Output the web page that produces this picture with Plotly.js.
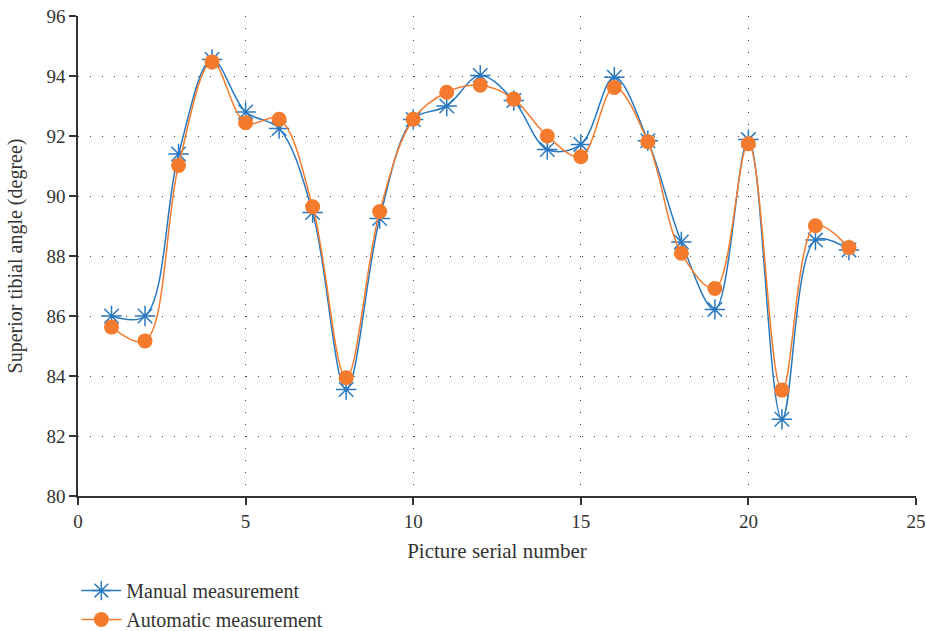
<!DOCTYPE html>
<html>
<head>
<meta charset="utf-8">
<script src="https://cdn.plot.ly/plotly-3.0.1.min.js"></script>
<style>html,body{margin:0;padding:0;background:#fff;}#chart{width:926px;height:631px;}</style>
</head>
<body>
<div id="chart"></div>
<script>
const pictureNo = [1,2,3,4,5,6,7,8,9,10,11,12,13,14,15,16,17,18,19,20,21,22,23];
const manual = [86.0,86.0,91.4,94.55,92.8,92.25,89.45,83.55,89.25,92.55,93.0,94.02,93.18,91.55,91.72,93.96,91.84,88.47,86.22,91.88,82.56,88.53,88.2];
const automatic = [85.63,85.17,91.02,94.47,92.44,92.56,89.64,83.94,89.48,92.56,93.46,93.69,93.23,92.0,91.31,93.62,91.81,88.09,86.92,91.74,83.53,89.01,88.28];
const xTicks = [0,5,10,15,20,25];
const yTicks = [80,82,84,86,88,90,92,94,96];

const font = "'Liberation Serif', 'Times New Roman', serif";
const txt = '#333';
const traces = [
  {x: pictureNo, y: manual, name: 'Manual measurement', type: 'scatter', mode: 'lines+markers',
   line: {color: '#2a79c0', width: 1.5, shape: 'spline', smoothing: 1},
   marker: {symbol: 'asterisk-open', size: 17, color: '#2a79c0', line: {color: '#2a79c0', width: 1.5}}},
  {x: pictureNo, y: automatic, name: 'Automatic measurement', type: 'scatter', mode: 'lines+markers',
   line: {color: '#f47b2e', width: 1.5, shape: 'spline', smoothing: 1},
   marker: {symbol: 'circle', size: 15, color: '#f47b2e'}}
];
const layout = {
  width: 926, height: 631,
  margin: {l: 78, r: 10, t: 16, b: 135},
  paper_bgcolor: '#fff', plot_bgcolor: '#fff',
  font: {family: font, size: 19, color: txt},
  showlegend: true,
  legend: {xref: 'paper', yref: 'container', x: -0.002, xanchor: 'left', y: 0.095, yanchor: 'top',
           orientation: 'v', itemwidth: 40,
           font: {family: font, size: 20, color: txt}, tracegroupgap: 0, bgcolor: 'rgba(0,0,0,0)'},
  xaxis: {range: [0, 25], tickvals: xTicks, ticktext: xTicks.map(String),
          showline: true, linecolor: '#333', linewidth: 1.5, ticks: 'outside', ticklen: 7, tickcolor: '#333', tickwidth: 1.5,
          showgrid: true, gridcolor: '#444', gridwidth: 1, griddash: '1px,11px', zeroline: false,
          tickfont: {family: font, size: 19, color: txt},
          title: {text: 'Picture serial number', font: {family: font, size: 21, color: txt}, standoff: 13}},
  yaxis: {range: [80, 96], tickvals: yTicks, ticktext: yTicks.map(String),
          showline: true, linecolor: '#333', linewidth: 1.5, ticks: 'outside', ticklen: 7, tickcolor: '#333', tickwidth: 1.5,
          showgrid: true, gridcolor: '#444', gridwidth: 1, griddash: '1px,11px', zeroline: false,
          tickfont: {family: font, size: 19, color: txt},
          title: {text: 'Superior tibial angle (degree)', font: {family: font, size: 20, color: txt}, standoff: 18}}
};
Plotly.newPlot('chart', traces, layout, {displayModeBar: false});
</script>
</body>
</html>
